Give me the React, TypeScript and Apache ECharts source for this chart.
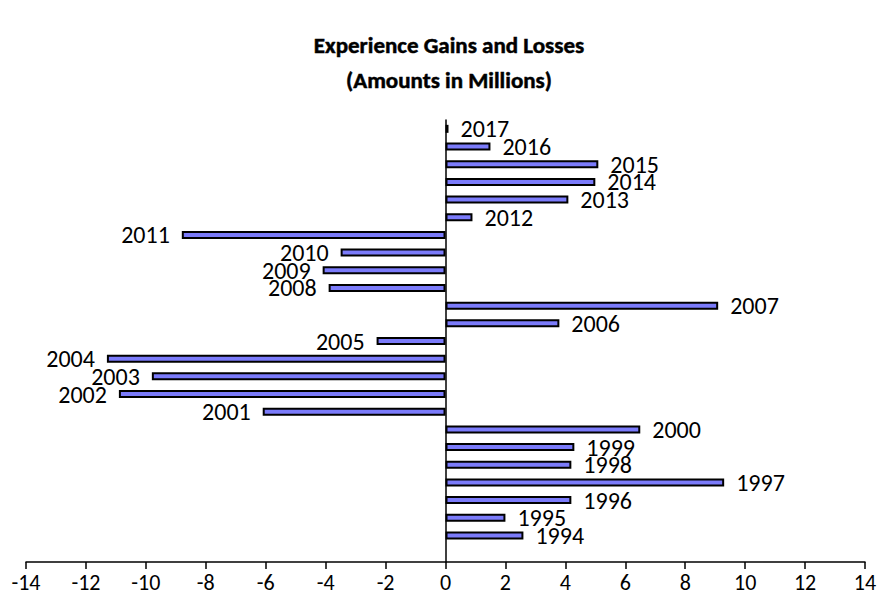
import React, { useEffect, useRef } from "react";
import * as echarts from "echarts";

const years = [
  "1994", "1995", "1996", "1997", "1998", "1999", "2000", "2001", "2002", "2003", "2004", "2005",
  "2006", "2007", "2008", "2009", "2010", "2011", "2012", "2013", "2014", "2015", "2016", "2017",
];
const values = [
  2.6, 2.0, 4.2, 9.3, 4.2, 4.3, 6.5, -6.1, -10.9, -9.8, -11.3, -2.3,
  3.8, 9.1, -3.9, -4.1, -3.5, -8.8, 0.9, 4.1, 5.0, 5.1, 1.5, 0.1,
];
const xTicks = { min: -14, max: 14, interval: 2 };
const titleLines = ["Experience Gains and Losses", "(Amounts in Millions)"];

const FONT = "Carlito, Calibri, 'Open Sans', sans-serif";

export default function App() {
  const ref = useRef<HTMLDivElement>(null);
  useEffect(() => {
    if (!ref.current) return;
    const chart = echarts.init(ref.current, undefined, { renderer: "svg" });
    const cats = [""].concat(years);
    const data: any[] = ["-"].concat(
      values.map((v) => ({
        value: v,
        label: { position: v >= 0 ? "right" : "left" },
      })) as any
    );
    chart.setOption({
      animation: false,
      backgroundColor: "#ffffff",
      graphic: titleLines.map((t, i) => ({
        type: "text",
        x: 449,
        y: 45 + i * 35,
        style: {
          text: t,
          fontFamily: FONT,
          fontWeight: "bold",
          fontSize: 23,
          fill: "#000",
          stroke: "#000",
          lineWidth: 0.5,
          align: "center",
          verticalAlign: "middle",
        },
      })),
      grid: { left: 26, right: 16, top: 120, bottom: 45, containLabel: false },
      xAxis: {
        type: "value",
        min: xTicks.min,
        max: xTicks.max,
        interval: xTicks.interval,
        axisLine: { show: true, lineStyle: { color: "#000", width: 1.5 } },
        axisTick: { show: true, inside: false, length: 7, lineStyle: { color: "#000", width: 1.5 } },
        axisLabel: { fontFamily: FONT, fontSize: 22, color: "#000", margin: 9 },
        splitLine: { show: false },
      },
      yAxis: {
        type: "category",
        data: cats,
        axisLine: { show: true, onZero: true, lineStyle: { color: "#000", width: 1.5 } },
        axisTick: { show: false },
        axisLabel: { show: false },
        splitLine: { show: false },
      },
      series: [
        {
          type: "bar",
          data,
          barWidth: 8,
          itemStyle: { color: "#7b7bfa", borderColor: "#000", borderWidth: 2 },
          label: {
            show: true,
            formatter: "{b}",
            distance: 12,
            fontFamily: FONT,
            fontSize: 24,
            color: "#000",
          },
        },
      ],
    });
    return () => chart.dispose();
  }, []);
  return (
    <div
      ref={ref}
      style={{ position: "fixed", left: 0, top: 0, width: 881, height: 607, background: "#fff" }}
    />
  );
}
